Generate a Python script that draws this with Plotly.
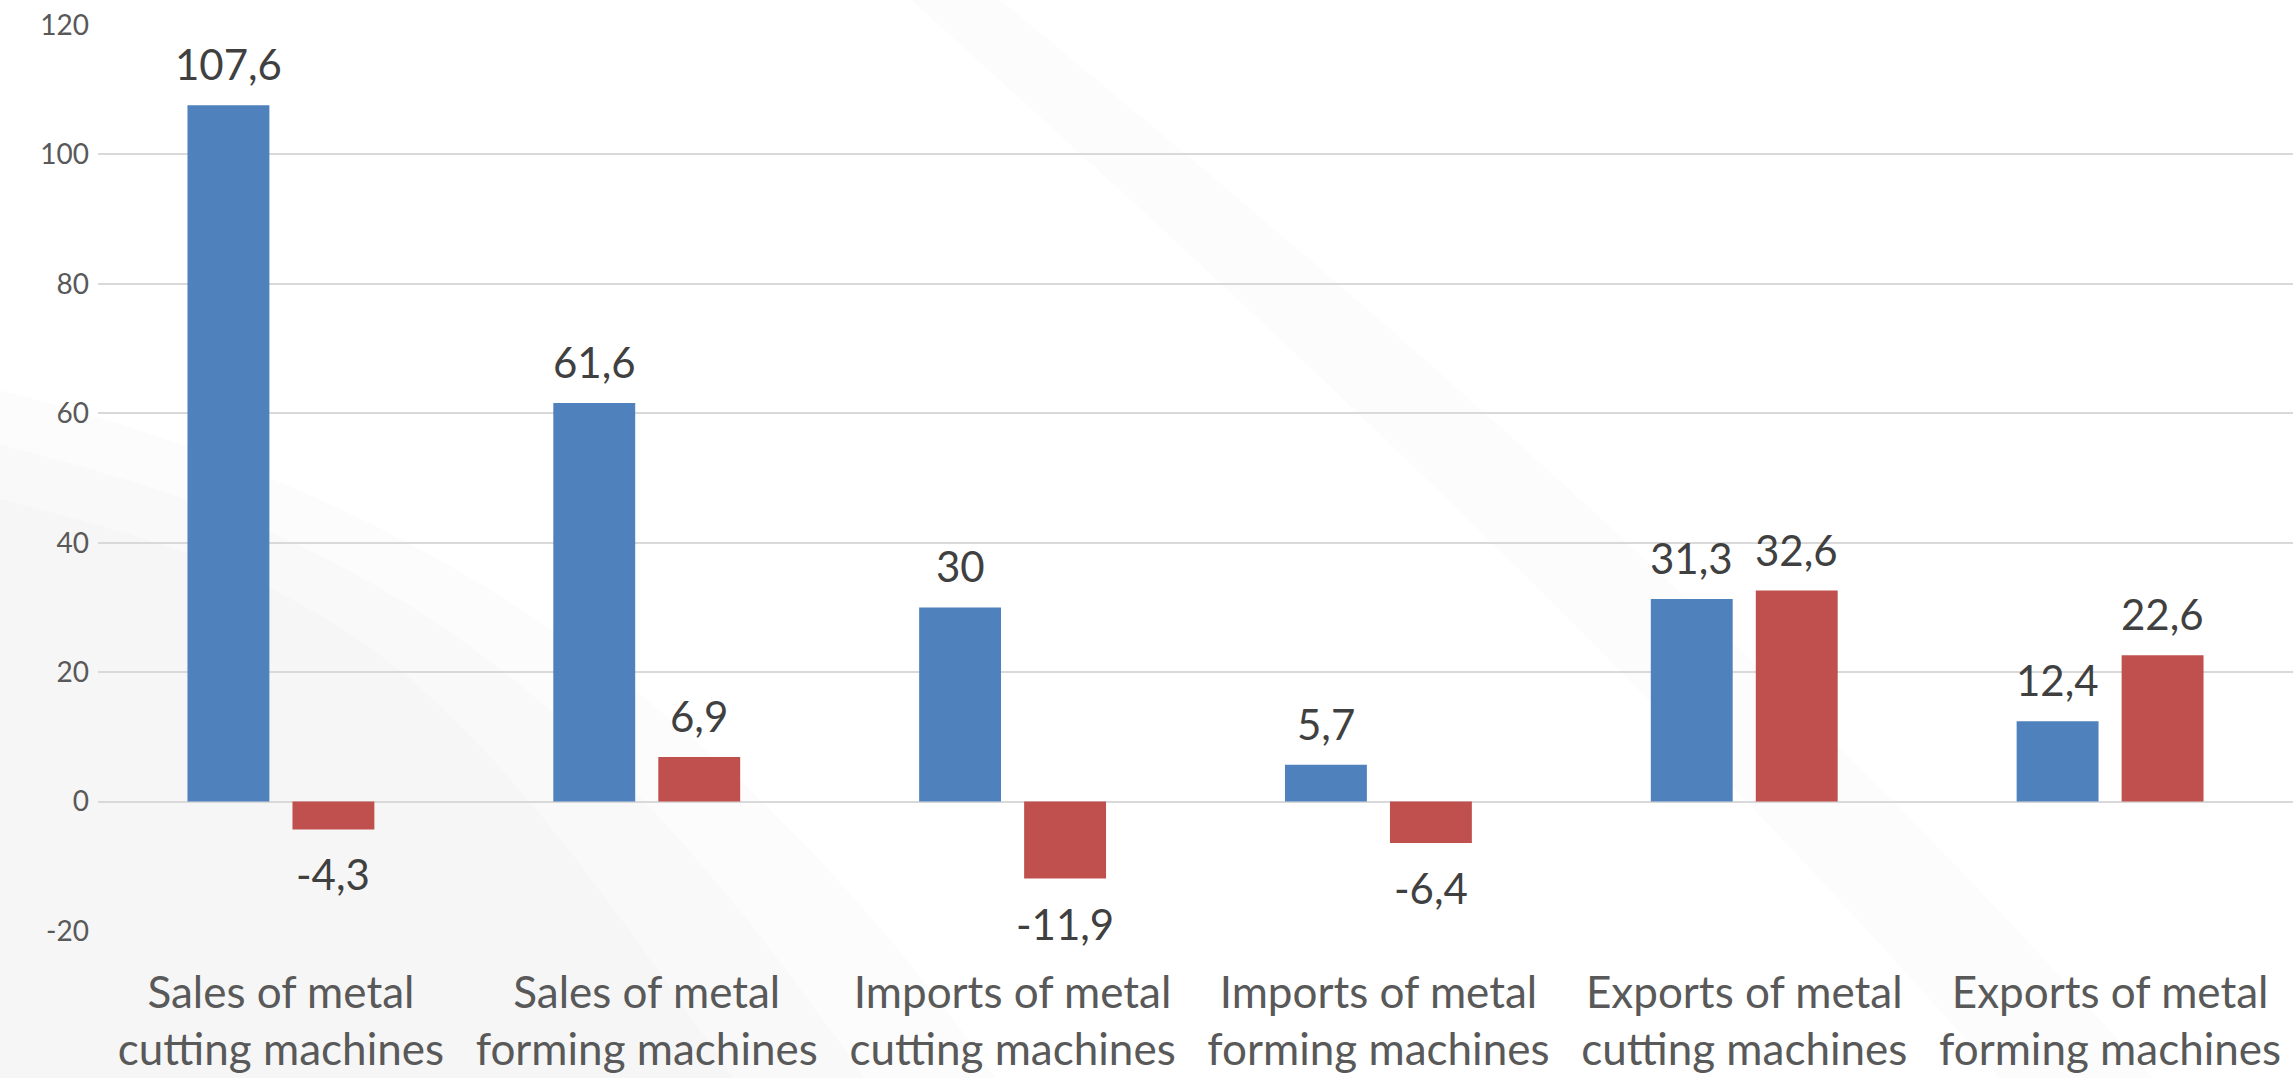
import plotly.graph_objects as go

categories = [
    "Sales of metal<br>cutting machines",
    "Sales of metal<br>forming machines",
    "Imports of metal<br>cutting machines",
    "Imports of metal<br>forming machines",
    "Exports of metal<br>cutting machines",
    "Exports of metal<br>forming machines",
]
series_blue = [107.6, 61.6, 30, 5.7, 31.3, 12.4]
series_red = [-4.3, 6.9, -11.9, -6.4, 32.6, 22.6]
y_ticks = [-20, 0, 20, 40, 60, 80, 100, 120]
y_ticklabels = ["-20", "0", "20", "40", "60", "80", "100", "120"]

FONT = "Lato"
BARGAP = 0.426
BARGROUPGAP = 0.22


def fmt(v):
    return f"{v:g}".replace(".", ",")


x = list(range(len(categories)))
slot = (1 - BARGAP) / 2  # width of each bar slot in category units

fig = go.Figure()
series = ((series_blue, "#4F81BD", -slot / 2), (series_red, "#C0504D", slot / 2))
for vals, color, dx in series:
    fig.add_trace(go.Bar(
        x=x, y=vals, marker=dict(color=color, line=dict(width=0)),
        showlegend=False, hoverinfo="skip",
    ))
    for xi, v in zip(x, vals):
        fig.add_annotation(
            x=xi + dx, y=v, xref="x", yref="y", text=fmt(v),
            showarrow=False, yanchor="middle", xanchor="center",
            yshift=41 if v >= 0 else -45,
            font=dict(family=FONT, size=42, color="#404040"),
        )

# faint background shading
for i, op in enumerate([0.012, 0.012, 0.012]):
    k = i * 0.06
    fig.add_shape(
        type="path", xref="paper", yref="paper", layer="below",
        path=f"M -0.05 {0.6 - k} C 0.12 {0.5 - k}, {0.28 - k} 0.3, {0.42 - k} -0.2 L -0.05 -0.2 Z",
        fillcolor=f"rgba(0,0,0,{op})", line=dict(width=0))
fig.add_shape(type="path", xref="paper", yref="paper", layer="below",
              path="M 0.4 1.05 C 0.55 0.75, 0.75 0.35, 0.95 -0.2 L 0.88 -0.2 C 0.7 0.3, 0.52 0.7, 0.36 1.05 Z",
              fillcolor="rgba(0,0,0,0.012)", line=dict(width=0))

fig.update_layout(
    width=2293, height=1078,
    margin=dict(l=98, r=0, t=25, b=147),
    paper_bgcolor="white", plot_bgcolor="rgba(0,0,0,0)",
    barmode="group", bargap=BARGAP, bargroupgap=BARGROUPGAP,
    font=dict(family=FONT, color="#595959"),
    xaxis=dict(
        tickmode="array", tickvals=x, ticktext=categories,
        range=[-0.5, len(categories) - 0.5],
        tickfont=dict(family=FONT, size=44, color="#595959"),
        showgrid=False, zeroline=False, showline=False, ticks="",
        ticklabelstandoff=32,
    ),
    yaxis=dict(
        range=[-20, 120], tickmode="array", tickvals=y_ticks,
        ticktext=y_ticklabels,
        tickfont=dict(family=FONT, size=28, color="#595959"),
        showgrid=True, gridcolor="#D9D9D9", gridwidth=2,
        zeroline=True, zerolinecolor="#D9D9D9", zerolinewidth=2,
        showline=False, ticks="", ticklabelstandoff=8,
    ),
)

fig.write_html("out.html")
